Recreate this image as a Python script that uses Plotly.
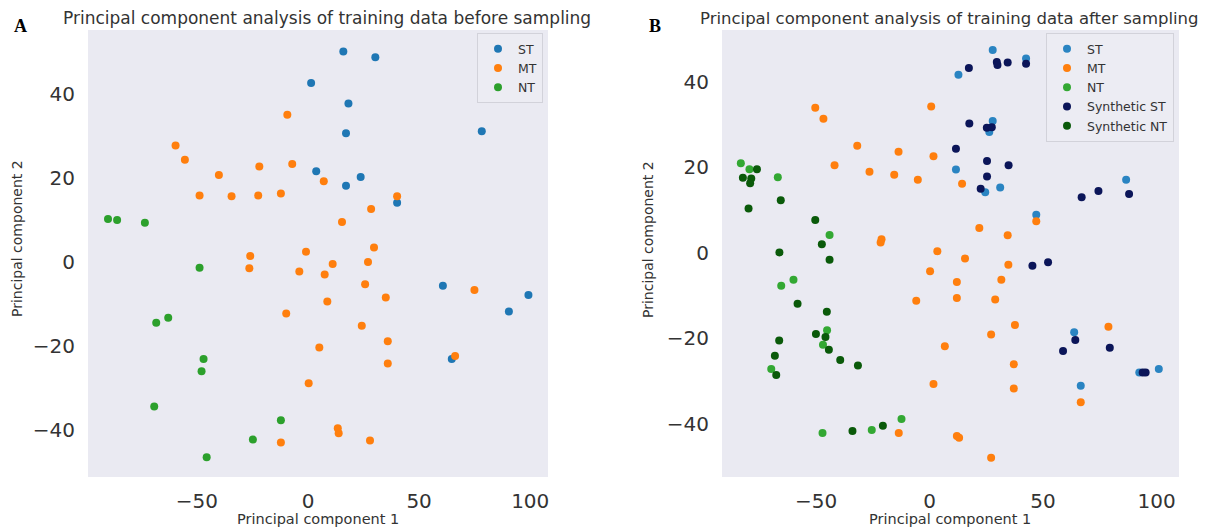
import plotly.graph_objects as go

# ---------------- data: panel A (before sampling) ----------------
st_before_x = [15.9, 30.3, 1.4, 18.2, 17.1, 78.2, 3.7, 23.7, 17.1, 40.1, 60.7, 99.2, 90.4, 64.7]
st_before_y = [50.1, 48.7, 42.6, 37.7, 30.6, 31.1, 21.6, 20.2, 18.1, 14.1, -5.7, -7.9, -11.8, -23.1]

mt_before_x = [-9.3, -59.6, -55.4, -21.9, -7.1, -40.1, 7.1, -48.8, -34.4, -22.4, -12.2, 40.1, 28.4,
               15.3, -0.9, 29.7, -26.0, -26.4, -3.9, 11.1, 7.5, 27.0, 25.7, 35.0, 8.7, -9.8, 24.2,
               35.9, 5.1, 35.9, 74.9, 66.2, 0.3, 13.4, 13.8, -12.2, 27.9]
mt_before_y = [35.0, 27.7, 24.3, 22.7, 23.3, 20.7, 19.2, 15.8, 15.6, 15.8, 16.3, 15.6, 12.6,
               9.5, 2.4, 3.4, 1.4, -1.5, -2.3, -0.5, -3.0, 0.0, -5.3, -8.5, -9.4, -12.3, -15.2,
               -18.9, -20.4, -24.2, -6.7, -22.4, -28.9, -39.6, -40.8, -43.0, -42.5]

nt_before_x = [-90.0, -85.9, -73.4, -48.8, -62.9, -68.3, -47.0, -47.9, -69.2, -12.2, -24.8, -45.6]
nt_before_y = [10.2, 10.0, 9.3, -1.4, -13.3, -14.5, -23.1, -26.0, -34.4, -37.7, -42.3, -46.5]

# ---------------- data: panel B (after sampling) ----------------
st_after_x = [27.8, 42.5, 12.7, 27.8, 26.3, 11.6, 24.5, 31.1, 86.6, 47.0, 63.7, 66.6, 92.4, 101.0]
st_after_y = [47.5, 45.5, 41.7, 30.9, 28.3, 19.5, 14.2, 15.3, 17.1, 8.9, -18.6, -31.1, -28.0, -27.2]

mt_after_x = [-50.4, -46.8, 0.7, -31.9, -13.7, 1.7, -41.9, -26.5, -15.6, -5.2, 14.3, 47.0, 21.9,
              34.4, -21.6, -21.2, 3.4, 15.6, 34.7, 0.2, 12.0, 31.6, -5.9, 12.0, 28.9, 37.6, 27.1,
              6.7, 78.8, 37.1, 1.7, 37.1, 66.6, -13.6, 12.0, 13.0, 27.1]
mt_after_y = [34.0, 31.4, 34.3, 25.1, 23.7, 22.6, 20.5, 19.0, 18.3, 17.1, 16.2, 7.4, 5.8,
              4.1, 2.4, 3.2, 0.4, -1.3, -2.8, -4.3, -6.8, -6.3, -11.2, -10.6, -10.9, -16.9, -19.1,
              -21.9, -17.3, -26.1, -30.7, -31.8, -35.0, -42.2, -42.9, -43.3, -48.0]

nt_after_x = [-83.2, -79.4, -66.9, -44.1, -60.0, -65.4, -45.2, -47.0, -69.8, -47.2, -25.5, -12.4]
nt_after_y = [21.0, 19.6, 17.7, 4.2, -6.3, -7.7, -18.1, -21.5, -27.2, -42.2, -41.5, -38.9]

syn_st_x = [17.3, 29.6, 29.9, 34.4, 42.5, 17.5, 25.2, 27.4, 11.6, 25.3, 34.8, 25.3, 22.5, 67.0,
            74.4, 87.9, 45.3, 52.2, 64.2, 58.8, 79.4, 93.9, 95.2]
syn_st_y = [43.3, 44.7, 44.0, 44.6, 44.3, 30.3, 29.3, 29.4, 24.4, 21.5, 20.5, 17.9, 15.0, 13.0,
            14.5, 13.8, -3.0, -2.2, -20.4, -23.0, -22.2, -28.0, -28.0]

syn_nt_x = [-76.1, -82.3, -78.6, -79.1, -79.8, -65.6, -50.4, -47.5, -66.2, -44.1, -58.2, -45.3,
            -50.1, -45.9, -44.4, -66.3, -68.2, -67.6, -39.4, -31.6, -34.0, -20.6]
syn_nt_y = [19.6, 17.6, 17.4, 16.3, 10.4, 12.3, 7.7, 2.0, 0.1, -1.6, -11.9, -13.8,
            -19.0, -19.7, -22.7, -20.5, -24.1, -28.6, -25.1, -26.4, -41.7, -40.5]

x_ticks = [-50, 0, 50, 100]
y_ticks = [-40, -20, 0, 20, 40]

title_a = "Principal component analysis of training data before sampling"
title_b = "Principal component analysis of training data after sampling"
xlabel = "Principal component 1"
ylabel = "Principal component 2"

# ---------------- styling ----------------
W, H = 1209, 531
BLUE, ORANGE, GREEN = "#1f77b4", "#ff7f0e", "#2ca02c"
NAVY, DKGREEN = "#0b1559", "#0a5a0a"
FONT = "DejaVu Sans"
MS = 8


def px_x(p):
    return p / W


def px_y(p):
    return 1 - p / H


fig = go.Figure()


def add(xs, ys, name, color, xa, ya, legend):
    fig.add_trace(go.Scatter(
        x=xs, y=ys, mode="markers", name=name, xaxis=xa, yaxis=ya, legend=legend,
        marker=dict(color=color, size=MS, line=dict(width=0)),
    ))


add(st_before_x, st_before_y, "ST", BLUE, "x", "y", "legend")
add(mt_before_x, mt_before_y, "MT", ORANGE, "x", "y", "legend")
add(nt_before_x, nt_before_y, "NT", GREEN, "x", "y", "legend")

add(st_after_x, st_after_y, "ST", "#2a84c2", "x2", "y2", "legend2")
add(mt_after_x, mt_after_y, "MT", ORANGE, "x2", "y2", "legend2")
add(nt_after_x, nt_after_y, "NT", "#33a833", "x2", "y2", "legend2")
add(syn_st_x, syn_st_y, "Synthetic ST", NAVY, "x2", "y2", "legend2")
add(syn_nt_x, syn_nt_y, "Synthetic NT", DKGREEN, "x2", "y2", "legend2")

axis_common = dict(showgrid=False, zeroline=False, showline=False, ticks="outside",
                   tickcolor="rgba(0,0,0,0)",
                   tickfont=dict(family=FONT, size=20, color="#333333"))

legend_common = dict(bgcolor="rgba(236,236,243,0.9)", bordercolor="#d2d2da", borderwidth=1,
                     font=dict(family=FONT, size=12.5, color="#333333"),
                     xanchor="right", yanchor="top", tracegroupgap=0, itemsizing="trace")

fig.update_layout(
    width=W, height=H,
    margin=dict(l=0, r=0, t=0, b=0),
    paper_bgcolor="white",
    plot_bgcolor="#eaeaf2",
    xaxis=dict(domain=[px_x(88), px_x(548)], range=[-99, 108], anchor="y",
               tickvals=x_ticks, ticklen=6, **axis_common),
    yaxis=dict(domain=[px_y(477), px_y(30)], range=[-51.2, 55.2], anchor="x",
               tickvals=y_ticks, ticklen=8, **axis_common),
    xaxis2=dict(domain=[px_x(722), px_x(1179)], range=[-91.5, 109.9], anchor="y2",
                tickvals=x_ticks, ticklen=6, **axis_common),
    yaxis2=dict(domain=[px_y(477), px_y(30)], range=[-52.5, 52.2], anchor="x2",
                tickvals=y_ticks, ticklen=8, **axis_common),
    legend=dict(x=px_x(543), y=px_y(33), **legend_common),
    legend2=dict(x=px_x(1174), y=px_y(33), **legend_common),
    showlegend=True,
)

annotations = [
    dict(text=title_a, x=px_x(327), y=px_y(18), font=dict(family=FONT, size=17, color="#333333")),
    dict(text=title_b, x=px_x(949), y=px_y(18), font=dict(family=FONT, size=16.5, color="#333333")),
    dict(text="<b>A</b>", x=px_x(20), y=px_y(26), font=dict(family="Liberation Serif", size=18, color="black")),
    dict(text="<b>B</b>", x=px_x(655), y=px_y(26), font=dict(family="Liberation Serif", size=18, color="black")),
    dict(text=xlabel, x=px_x(318), y=px_y(519), font=dict(family=FONT, size=14.5, color="#333333")),
    dict(text=xlabel, x=px_x(950), y=px_y(519), font=dict(family=FONT, size=14.5, color="#333333")),
    dict(text=ylabel, x=px_x(17), y=px_y(239), textangle=-90, font=dict(family=FONT, size=14, color="#333333")),
    dict(text=ylabel, x=px_x(648), y=px_y(239), textangle=-90, font=dict(family=FONT, size=14, color="#333333")),
]
for a in annotations:
    a.update(xref="paper", yref="paper", xanchor="center", yanchor="middle", showarrow=False)
fig.update_layout(annotations=annotations)

fig.write_html(
    "out.html",
    config={"displayModeBar": False},
    post_script="document.body.style.margin='0';document.body.style.overflow='hidden';",
)
